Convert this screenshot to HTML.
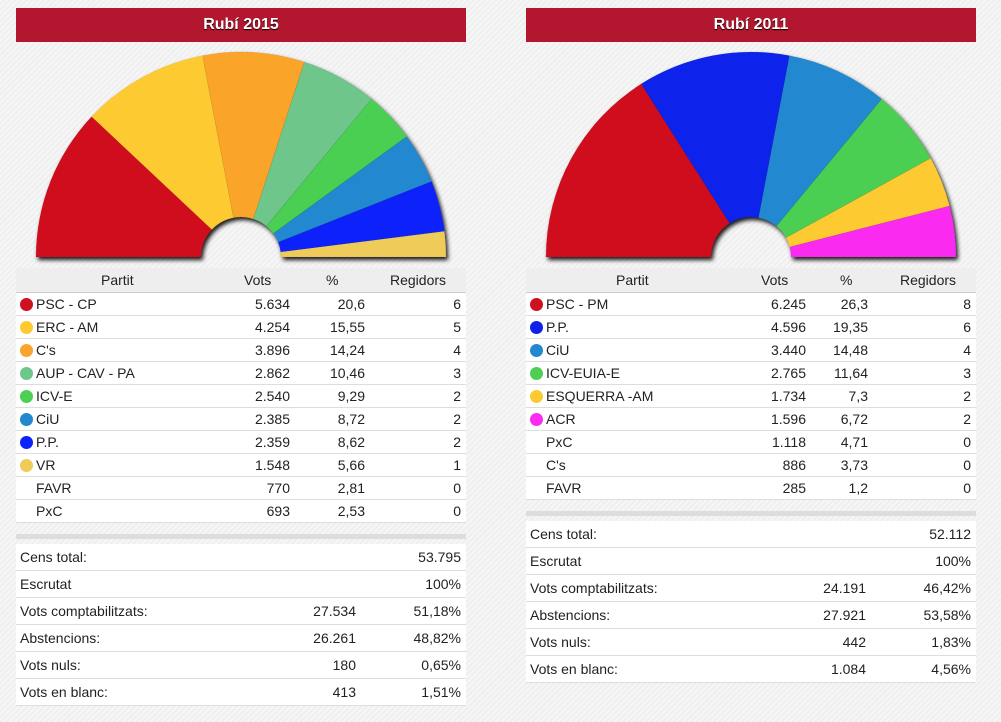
<!DOCTYPE html>
<html><head><meta charset="utf-8"><style>
body{margin:0;width:1001px;height:722px;overflow:hidden;background:#f3f3f3;background-image:repeating-linear-gradient(135deg,#f6f6f6 0 2px,#efefef 2px 4px);font-family:"Liberation Sans",Arial,sans-serif;font-size:14px;color:#222;position:relative}
.a{position:absolute}
.title{position:absolute;top:8px;height:34px;width:450px;background:#b3162f;color:#fff;font-weight:bold;font-size:16px;text-align:center;line-height:34px;text-shadow:0 1px 1px #000}
.hdr{position:absolute;top:268px;height:24px;width:450px;background:#eee;border-bottom:1px solid #ccc}
.row{position:absolute;width:450px;height:22px;background:#fff;border-bottom:1px solid #ddd;line-height:23px}
.srow{position:absolute;width:450px;height:26px;background:#fff;border-bottom:1px solid #ddd;line-height:27px}
.row span,.srow span,.hdr span{position:absolute;white-space:nowrap}
.d{width:13px;height:13px;border-radius:50%;top:5px;left:4px}
.bar{position:absolute;width:450px;height:5px;background:#ddd}
</style></head><body>
<svg class="a" style="left:0;top:0" width="1001" height="270">
<defs><filter id="sh" x="-10%" y="-10%" width="120%" height="130%"><feDropShadow dx="2" dy="3" stdDeviation="2" flood-color="#000" flood-opacity="0.9"/></filter></defs>
<g id="g1" filter="url(#sh)"></g><g id="g2" filter="url(#sh)"></g>
</svg>
<script>
function draw(id,cx,cy,R,r,seats,cols){var tot=seats.reduce((a,b)=>a+b,0),a0=Math.PI,s='';seats.forEach(function(n,i){var a1=a0-Math.PI*n/tot;function p(rad,a){return (cx+rad*Math.cos(a)).toFixed(2)+','+(cy-rad*Math.sin(a)).toFixed(2)}s+='<path fill="'+cols[i]+'" stroke="rgba(0,0,0,0.08)" stroke-width="0.6" d="M'+p(R,a0)+' A'+R+','+R+' 0 0 1 '+p(R,a1)+' L'+p(r,a1)+' A'+r+','+r+' 0 0 0 '+p(r,a0)+' Z"/>';a0=a1});document.getElementById(id).innerHTML=s}
draw('g1',241,257,205,40,[6,5,4,3,2,2,2,1],['#cf111f','#fdca31','#fba42b','#6ec68b','#4ccf53','#2288cf','#0c22fb','#efcb5a']);
draw('g2',751,257,205,40,[8,6,4,3,2,2],['#cf111f','#0c22eb','#2288cf','#4ccf53','#fdca31','#fb2cf0']);
</script>

<div class="title" style="left:16px">Rubí 2015</div>
<div class="title" style="left:526px">Rubí 2011</div>

<!-- LEFT table -->
<div class="hdr" style="left:16px;line-height:24px"><span style="left:85px">Partit</span><span style="left:228px">Vots</span><span style="left:310px">%</span><span style="left:374px">Regidors</span></div>
<div class="row" style="left:16px;top:293px"><span class="d" style="background:#cf111f"></span><span style="left:20px">PSC - CP</span><span style="right:176px">5.634</span><span style="right:101px">20,6</span><span style="right:5px">6</span></div>
<div class="row" style="left:16px;top:316px"><span class="d" style="background:#fdca31"></span><span style="left:20px">ERC - AM</span><span style="right:176px">4.254</span><span style="right:101px">15,55</span><span style="right:5px">5</span></div>
<div class="row" style="left:16px;top:339px"><span class="d" style="background:#fba42b"></span><span style="left:20px">C's</span><span style="right:176px">3.896</span><span style="right:101px">14,24</span><span style="right:5px">4</span></div>
<div class="row" style="left:16px;top:362px"><span class="d" style="background:#6ec68b"></span><span style="left:20px">AUP - CAV - PA</span><span style="right:176px">2.862</span><span style="right:101px">10,46</span><span style="right:5px">3</span></div>
<div class="row" style="left:16px;top:385px"><span class="d" style="background:#4ccf53"></span><span style="left:20px">ICV-E</span><span style="right:176px">2.540</span><span style="right:101px">9,29</span><span style="right:5px">2</span></div>
<div class="row" style="left:16px;top:408px"><span class="d" style="background:#2288cf"></span><span style="left:20px">CiU</span><span style="right:176px">2.385</span><span style="right:101px">8,72</span><span style="right:5px">2</span></div>
<div class="row" style="left:16px;top:431px"><span class="d" style="background:#0c22fb"></span><span style="left:20px">P.P.</span><span style="right:176px">2.359</span><span style="right:101px">8,62</span><span style="right:5px">2</span></div>
<div class="row" style="left:16px;top:454px"><span class="d" style="background:#efcb5a"></span><span style="left:20px">VR</span><span style="right:176px">1.548</span><span style="right:101px">5,66</span><span style="right:5px">1</span></div>
<div class="row" style="left:16px;top:477px"><span style="left:20px">FAVR</span><span style="right:176px">770</span><span style="right:101px">2,81</span><span style="right:5px">0</span></div>
<div class="row" style="left:16px;top:500px"><span style="left:20px">PxC</span><span style="right:176px">693</span><span style="right:101px">2,53</span><span style="right:5px">0</span></div>
<div class="bar" style="left:16px;top:534px"></div>
<div class="srow" style="left:16px;top:544px"><span style="left:4px">Cens total:</span><span style="right:5px">53.795</span></div>
<div class="srow" style="left:16px;top:571px"><span style="left:4px">Escrutat</span><span style="right:5px">100%</span></div>
<div class="srow" style="left:16px;top:598px"><span style="left:4px">Vots comptabilitzats:</span><span style="right:110px">27.534</span><span style="right:5px">51,18%</span></div>
<div class="srow" style="left:16px;top:625px"><span style="left:4px">Abstencions:</span><span style="right:110px">26.261</span><span style="right:5px">48,82%</span></div>
<div class="srow" style="left:16px;top:652px"><span style="left:4px">Vots nuls:</span><span style="right:110px">180</span><span style="right:5px">0,65%</span></div>
<div class="srow" style="left:16px;top:679px"><span style="left:4px">Vots en blanc:</span><span style="right:110px">413</span><span style="right:5px">1,51%</span></div>

<!-- RIGHT table -->
<div class="hdr" style="left:526px;line-height:24px"><span style="left:90px">Partit</span><span style="left:235px">Vots</span><span style="left:314px">%</span><span style="left:374px">Regidors</span></div>
<div class="row" style="left:526px;top:293px"><span class="d" style="background:#cf111f"></span><span style="left:20px">PSC - PM</span><span style="right:170px">6.245</span><span style="right:108px">26,3</span><span style="right:5px">8</span></div>
<div class="row" style="left:526px;top:316px"><span class="d" style="background:#0c22eb"></span><span style="left:20px">P.P.</span><span style="right:170px">4.596</span><span style="right:108px">19,35</span><span style="right:5px">6</span></div>
<div class="row" style="left:526px;top:339px"><span class="d" style="background:#2288cf"></span><span style="left:20px">CiU</span><span style="right:170px">3.440</span><span style="right:108px">14,48</span><span style="right:5px">4</span></div>
<div class="row" style="left:526px;top:362px"><span class="d" style="background:#4ccf53"></span><span style="left:20px">ICV-EUIA-E</span><span style="right:170px">2.765</span><span style="right:108px">11,64</span><span style="right:5px">3</span></div>
<div class="row" style="left:526px;top:385px"><span class="d" style="background:#fdca31"></span><span style="left:20px">ESQUERRA -AM</span><span style="right:170px">1.734</span><span style="right:108px">7,3</span><span style="right:5px">2</span></div>
<div class="row" style="left:526px;top:408px"><span class="d" style="background:#fb2cf0"></span><span style="left:20px">ACR</span><span style="right:170px">1.596</span><span style="right:108px">6,72</span><span style="right:5px">2</span></div>
<div class="row" style="left:526px;top:431px"><span style="left:20px">PxC</span><span style="right:170px">1.118</span><span style="right:108px">4,71</span><span style="right:5px">0</span></div>
<div class="row" style="left:526px;top:454px"><span style="left:20px">C's</span><span style="right:170px">886</span><span style="right:108px">3,73</span><span style="right:5px">0</span></div>
<div class="row" style="left:526px;top:477px"><span style="left:20px">FAVR</span><span style="right:170px">285</span><span style="right:108px">1,2</span><span style="right:5px">0</span></div>
<div class="bar" style="left:526px;top:511px"></div>
<div class="srow" style="left:526px;top:521px"><span style="left:4px">Cens total:</span><span style="right:5px">52.112</span></div>
<div class="srow" style="left:526px;top:548px"><span style="left:4px">Escrutat</span><span style="right:5px">100%</span></div>
<div class="srow" style="left:526px;top:575px"><span style="left:4px">Vots comptabilitzats:</span><span style="right:110px">24.191</span><span style="right:5px">46,42%</span></div>
<div class="srow" style="left:526px;top:602px"><span style="left:4px">Abstencions:</span><span style="right:110px">27.921</span><span style="right:5px">53,58%</span></div>
<div class="srow" style="left:526px;top:629px"><span style="left:4px">Vots nuls:</span><span style="right:110px">442</span><span style="right:5px">1,83%</span></div>
<div class="srow" style="left:526px;top:656px"><span style="left:4px">Vots en blanc:</span><span style="right:110px">1.084</span><span style="right:5px">4,56%</span></div>
</body></html>
